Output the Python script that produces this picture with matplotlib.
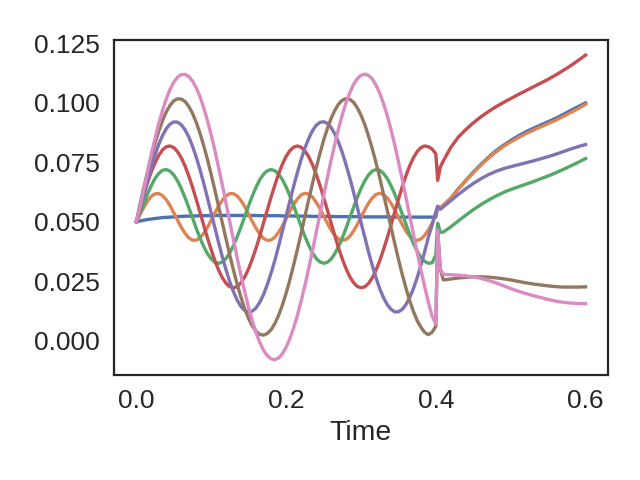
import matplotlib
matplotlib.use("Agg")
import matplotlib.pyplot as plt

# time grid: 0.000 .. 0.400 every 0.005, then the jump and the tail (every 0.01)
time = ([round(0.005 * i, 3) for i in range(81)] + [0.4025, 0.406]
        + [round(0.41 + 0.01 * i, 2) for i in range(20)])

blue = [0.0500, 0.0503, 0.0506, 0.0509, 0.0511, 0.0513, 0.0515, 0.0517, 0.0518, 0.0519,
        0.0520, 0.0521, 0.0522, 0.0523, 0.0523, 0.0524, 0.0524, 0.0525, 0.0525, 0.0525,
        0.0525, 0.0526, 0.0526, 0.0526, 0.0526, 0.0526, 0.0526, 0.0526, 0.0526, 0.0526,
        0.0526, 0.0526, 0.0526, 0.0525, 0.0525, 0.0525, 0.0525, 0.0525, 0.0525, 0.0524,
        0.0524, 0.0524, 0.0524, 0.0523, 0.0523, 0.0523, 0.0523, 0.0522, 0.0522, 0.0522,
        0.0522, 0.0522, 0.0522, 0.0521, 0.0521, 0.0521, 0.0521, 0.0521, 0.0521, 0.0521,
        0.0520, 0.0520, 0.0520, 0.0520, 0.0520, 0.0520, 0.0520, 0.0520, 0.0519, 0.0519,
        0.0519, 0.0519, 0.0519, 0.0519, 0.0519, 0.0519, 0.0519, 0.0519, 0.0519, 0.0519,
        0.0519,
        0.0564, 0.0556,
        0.0569, 0.0598, 0.0638, 0.0673, 0.0708, 0.0740, 0.0770, 0.0797, 0.0820, 0.0841,
        0.0860, 0.0877, 0.0892, 0.0906, 0.0920, 0.0934, 0.0950, 0.0967, 0.0983, 0.0999]

orange = [0.0500, 0.0531, 0.0561, 0.0587, 0.0607, 0.0617, 0.0618, 0.0609, 0.0592, 0.0567,
          0.0537, 0.0506, 0.0476, 0.0451, 0.0432, 0.0422, 0.0422, 0.0432, 0.0451, 0.0476,
          0.0506, 0.0537, 0.0567, 0.0591, 0.0609, 0.0618, 0.0617, 0.0607, 0.0587, 0.0562,
          0.0531, 0.0500, 0.0471, 0.0447, 0.0429, 0.0421, 0.0423, 0.0435, 0.0455, 0.0481,
          0.0512, 0.0543, 0.0572, 0.0595, 0.0612, 0.0619, 0.0616, 0.0604, 0.0582, 0.0556,
          0.0525, 0.0494, 0.0465, 0.0443, 0.0427, 0.0421, 0.0425, 0.0438, 0.0460, 0.0487,
          0.0518, 0.0549, 0.0577, 0.0599, 0.0614, 0.0619, 0.0614, 0.0600, 0.0578, 0.0550,
          0.0518, 0.0489, 0.0460, 0.0439, 0.0425, 0.0421, 0.0427, 0.0442, 0.0465, 0.0493,
          0.0530,
          0.0564, 0.0556,
          0.0569, 0.0598, 0.0637, 0.0671, 0.0705, 0.0737, 0.0766, 0.0792, 0.0815, 0.0835,
          0.0853, 0.0869, 0.0884, 0.0898, 0.0912, 0.0926, 0.0942, 0.0958, 0.0975, 0.0993]

green = [0.0500, 0.0535, 0.0576, 0.0617, 0.0652, 0.0682, 0.0703, 0.0716, 0.0719, 0.0712,
         0.0696, 0.0671, 0.0639, 0.0601, 0.0559, 0.0516, 0.0472, 0.0431, 0.0395, 0.0365,
         0.0343, 0.0329, 0.0325, 0.0331, 0.0346, 0.0370, 0.0401, 0.0439, 0.0480, 0.0524,
         0.0568, 0.0609, 0.0646, 0.0677, 0.0700, 0.0714, 0.0719, 0.0714, 0.0700, 0.0677,
         0.0646, 0.0609, 0.0568, 0.0524, 0.0481, 0.0439, 0.0402, 0.0370, 0.0346, 0.0331,
         0.0325, 0.0329, 0.0342, 0.0365, 0.0395, 0.0431, 0.0472, 0.0516, 0.0559, 0.0601,
         0.0639, 0.0671, 0.0696, 0.0712, 0.0719, 0.0716, 0.0703, 0.0682, 0.0652, 0.0617,
         0.0576, 0.0533, 0.0490, 0.0447, 0.0409, 0.0376, 0.0350, 0.0333, 0.0325, 0.0327,
         0.0360,
         0.0493, 0.0455,
         0.0456, 0.0478, 0.0503, 0.0527, 0.0550, 0.0571, 0.0590, 0.0607, 0.0622, 0.0635,
         0.0646, 0.0657, 0.0668, 0.0680, 0.0692, 0.0705, 0.0719, 0.0734, 0.0749, 0.0765]

red = [0.0500, 0.0561, 0.0614, 0.0664, 0.0710, 0.0748, 0.0779, 0.0802, 0.0815, 0.0818,
       0.0811, 0.0794, 0.0768, 0.0734, 0.0692, 0.0645, 0.0593, 0.0539, 0.0484, 0.0431,
       0.0381, 0.0335, 0.0295, 0.0263, 0.0240, 0.0226, 0.0222, 0.0228, 0.0244, 0.0269,
       0.0303, 0.0344, 0.0390, 0.0441, 0.0496, 0.0550, 0.0604, 0.0654, 0.0701, 0.0741,
       0.0774, 0.0798, 0.0813, 0.0818, 0.0813, 0.0798, 0.0774, 0.0741, 0.0701, 0.0654,
       0.0604, 0.0550, 0.0496, 0.0441, 0.0390, 0.0344, 0.0303, 0.0269, 0.0244, 0.0228,
       0.0222, 0.0226, 0.0240, 0.0263, 0.0295, 0.0335, 0.0381, 0.0431, 0.0484, 0.0539,
       0.0593, 0.0645, 0.0692, 0.0734, 0.0768, 0.0794, 0.0811, 0.0818, 0.0815, 0.0805,
       0.0785,
       0.0673, 0.0730,
       0.0755, 0.0812, 0.0855, 0.0887, 0.0915, 0.0940, 0.0962, 0.0982, 0.1000, 0.1017,
       0.1034, 0.1050, 0.1066, 0.1082, 0.1098, 0.1116, 0.1135, 0.1155, 0.1177, 0.1200]

purple = [0.0500, 0.0552, 0.0612, 0.0672, 0.0729, 0.0781, 0.0826, 0.0862, 0.0891, 0.0910,
          0.0919, 0.0918, 0.0907, 0.0886, 0.0856, 0.0817, 0.0771, 0.0718, 0.0661, 0.0599,
          0.0536, 0.0473, 0.0410, 0.0350, 0.0295, 0.0245, 0.0203, 0.0168, 0.0142, 0.0126,
          0.0120, 0.0124, 0.0138, 0.0162, 0.0195, 0.0236, 0.0284, 0.0338, 0.0397, 0.0460,
          0.0523, 0.0586, 0.0648, 0.0706, 0.0760, 0.0808, 0.0848, 0.0881, 0.0904, 0.0917,
          0.0920, 0.0913, 0.0896, 0.0869, 0.0834, 0.0791, 0.0740, 0.0685, 0.0625, 0.0562,
          0.0498, 0.0436, 0.0374, 0.0317, 0.0265, 0.0219, 0.0181, 0.0152, 0.0132, 0.0121,
          0.0121, 0.0131, 0.0151, 0.0180, 0.0218, 0.0264, 0.0316, 0.0373, 0.0434, 0.0485,
          0.0540,
          0.0564, 0.0552,
          0.0562, 0.0588, 0.0614, 0.0638, 0.0660, 0.0680, 0.0697, 0.0711, 0.0722, 0.0731,
          0.0739, 0.0747, 0.0755, 0.0764, 0.0773, 0.0783, 0.0794, 0.0805, 0.0815, 0.0824]

brown = [0.0500, 0.0575, 0.0644, 0.0710, 0.0772, 0.0830, 0.0881, 0.0925, 0.0962, 0.0989,
         0.1008, 0.1016, 0.1015, 0.1005, 0.0984, 0.0955, 0.0917, 0.0871, 0.0819, 0.0761,
         0.0697, 0.0631, 0.0562, 0.0492, 0.0424, 0.0356, 0.0292, 0.0233, 0.0179, 0.0131,
         0.0092, 0.0061, 0.0039, 0.0026, 0.0023, 0.0030, 0.0046, 0.0072, 0.0106, 0.0149,
         0.0199, 0.0255, 0.0317, 0.0382, 0.0450, 0.0520, 0.0589, 0.0657, 0.0723, 0.0784,
         0.0841, 0.0890, 0.0933, 0.0967, 0.0994, 0.1010, 0.1017, 0.1014, 0.1002, 0.0979,
         0.0948, 0.0909, 0.0861, 0.0808, 0.0749, 0.0685, 0.0617, 0.0549, 0.0478, 0.0410,
         0.0343, 0.0280, 0.0222, 0.0169, 0.0123, 0.0085, 0.0056, 0.0035, 0.0025, 0.0035,
         0.0060,
         0.0460, 0.0300,
         0.0255, 0.0259, 0.0263, 0.0266, 0.0268, 0.0268, 0.0267, 0.0264, 0.0260, 0.0255,
         0.0249, 0.0243, 0.0238, 0.0234, 0.0230, 0.0227, 0.0225, 0.0225, 0.0225, 0.0226]

pink = [0.0500, 0.0565, 0.0636, 0.0711, 0.0784, 0.0851, 0.0913, 0.0969, 0.1016, 0.1056,
        0.1086, 0.1107, 0.1118, 0.1119, 0.1110, 0.1091, 0.1062, 0.1025, 0.0978, 0.0924,
        0.0863, 0.0797, 0.0725, 0.0651, 0.0573, 0.0496, 0.0419, 0.0342, 0.0270, 0.0202,
        0.0138, 0.0082, 0.0032, -0.0009, -0.0041, -0.0064, -0.0077, -0.0080, -0.0073, -0.0055,
        -0.0028, 0.0008, 0.0053, 0.0105, 0.0165, 0.0230, 0.0300, 0.0374, 0.0451, 0.0528,
        0.0606, 0.0683, 0.0756, 0.0825, 0.0890, 0.0948, 0.0999, 0.1041, 0.1076, 0.1100,
        0.1115, 0.1120, 0.1115, 0.1100, 0.1074, 0.1041, 0.0997, 0.0947, 0.0888, 0.0824,
        0.0753, 0.0680, 0.0603, 0.0526, 0.0448, 0.0373, 0.0298, 0.0228, 0.0162, 0.0103,
        0.0070,
        0.0464, 0.0300,
        0.0278, 0.0277, 0.0275, 0.0272, 0.0268, 0.0262, 0.0253, 0.0243, 0.0231, 0.0219,
        0.0208, 0.0198, 0.0189, 0.0181, 0.0173, 0.0166, 0.0161, 0.0158, 0.0156, 0.0155]

series = [blue, orange, green, red, purple, brown, pink]
colors = ["#4C72B0", "#DD8452", "#55A868", "#C44E52", "#8172B3", "#937860", "#DA8BC3"]

plt.rcParams['font.family'] = ['Liberation Sans', 'DejaVu Sans']
dark = "#262626"

fig = plt.figure(figsize=(6.4, 4.8), dpi=100)
ax = fig.add_axes([0.178, 0.219, 0.772, 0.698])
for y, c in zip(series, colors):
    ax.plot(time, y, color=c, lw=2.4)

ax.set_xticks([0.0, 0.2, 0.4, 0.6])
ax.set_yticks([0.0, 0.025, 0.05, 0.075, 0.1, 0.125])
ax.set_yticklabels(["0.000", "0.025", "0.050", "0.075", "0.100", "0.125"])
ax.tick_params(length=0, pad=10, labelsize=19, labelcolor=dark)
ax.set_xlabel("Time", fontsize=20.5, color=dark, labelpad=5)
for s in ax.spines.values():
    s.set_color(dark)
    s.set_linewidth(1.6)

fig.savefig("out.png", dpi=100)
